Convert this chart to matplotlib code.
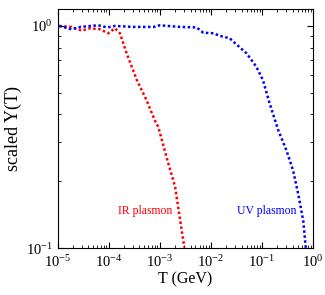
import numpy as np
import matplotlib
matplotlib.use("Agg")
import matplotlib.pyplot as plt
from matplotlib.ticker import LogLocator, NullFormatter

plt.rcParams['font.family'] = ['Liberation Serif', 'DejaVu Serif']
plt.rcParams['mathtext.fontset'] = 'stix'

# IR plasmon curve (red)
ir_logT = [-4.97, -4.73, -4.53, -4.37, -4.17, -4.01, -3.88, -3.78, -3.65, -3.45,
           -3.26, -3.10, -3.03, -2.87, -2.70, -2.61, -2.52]
ir_Y = [1.0, 0.99, 0.953, 0.976, 0.966, 0.927, 0.976, 0.927, 0.753, 0.571,
        0.464, 0.377, 0.352, 0.258, 0.189, 0.138, 0.101]

# UV plasmon curve (blue)
uv_logT = [-4.97, -4.73, -4.55, -4.21, -4.03, -3.88, -3.52, -3.12, -3.0, -2.61,
           -2.28, -2.15, -1.95, -1.82, -1.63, -1.56, -1.30, -1.11, -0.98, -0.85,
           -0.68, -0.52, -0.39, -0.29, -0.19, -0.14]
uv_Y = [1.0, 0.966, 0.99, 1.007, 0.985, 1.0, 0.99, 0.99, 1.007, 0.99,
        0.985, 0.933, 0.927, 0.902, 0.88, 0.85, 0.753, 0.656, 0.571, 0.449,
        0.34, 0.276, 0.224, 0.176, 0.133, 0.1]


def main():
    fig = plt.figure(figsize=(3.25, 2.95), dpi=100)
    ax = fig.add_axes([0.1775, 0.158, 0.7855, 0.811])

    ax.plot(10 ** np.array(ir_logT), ir_Y, color='#ff0000', lw=1.8, ls=(0, (1, 1)))
    ax.plot(10 ** np.array(uv_logT), uv_Y, color='#0000ff', lw=1.8, ls=(0, (1, 1)))

    ax.set_xscale('log')
    ax.set_yscale('log')
    ax.set_xlim(1e-5, 1)
    ax.set_ylim(0.1, 1.19)
    ax.xaxis.set_major_locator(LogLocator(base=10, numticks=20))
    ax.xaxis.set_minor_locator(LogLocator(base=10, subs=np.arange(2, 10), numticks=20))
    ax.xaxis.set_minor_formatter(NullFormatter())
    ax.yaxis.set_minor_formatter(NullFormatter())

    ax.text(10 ** -3.29, 0.147, 'IR plasmon', color='#ff0000', fontsize=8.5,
            ha='center', va='center')
    ax.text(10 ** -0.91, 0.147, 'UV plasmon', color='#0000ff', fontsize=8.5,
            ha='center', va='center')

    ax.set_xlabel('T (GeV)', fontsize=11.5, labelpad=1)
    ax.set_ylabel('scaled Y(T)', fontsize=13, labelpad=3)

    ax.tick_params(which='both', direction='in', top=True, right=True, labelsize=10.5)
    ax.tick_params(which='major', length=4)
    ax.tick_params(which='minor', length=2)
    ax.tick_params(axis='x', pad=4)

    fig.savefig('out.png', dpi=100)


if __name__ == "__main__":
    main()
